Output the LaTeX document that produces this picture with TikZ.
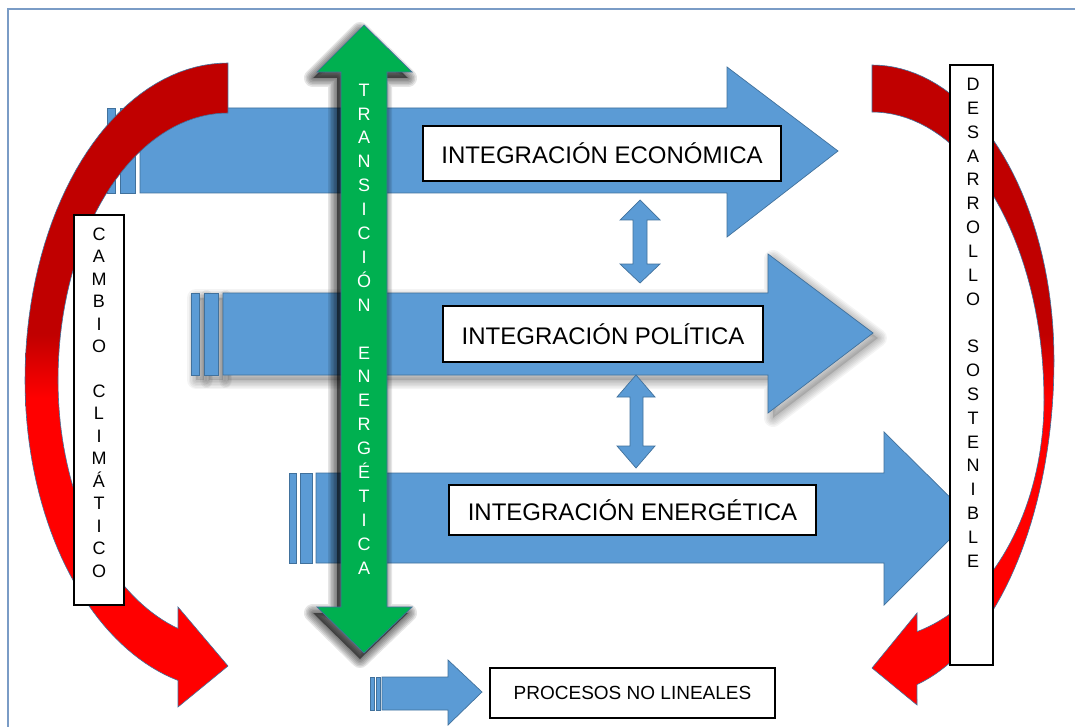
\documentclass[tikz,border=0pt]{standalone}
\usepackage{fontspec}
\setmainfont{Liberation Sans}
\definecolor{blueA}{HTML}{5B9BD5}
\definecolor{blueE}{HTML}{41719C}
\definecolor{greenA}{HTML}{00B050}
\definecolor{darkred}{HTML}{C00000}
\definecolor{brightred}{HTML}{FF0000}
\definecolor{framec}{HTML}{7A9CC6}
\pgfdeclareverticalshading{redarc}{100bp}{color(0bp)=(brightred); color(49bp)=(brightred); color(54bp)=(darkred); color(100bp)=(darkred)}
\newcommand{\softshadow}[5]{%
  \begin{scope}[shift={(#2,#3)}]
    \foreach \w in {18,15,12,9,6,3}{\path[draw=black, draw opacity=#5, line width=\w pt, line join=round] #1;}
    \path[fill=black, fill opacity=#4] #1;
  \end{scope}}
\def\midbody{(223,293)--(768,293)--(768,254)--(873,333)--(768,413)--(768,375)--(223,375)--cycle}
\def\midsa{(191,293) rectangle (199,375)}
\def\midsb{(204,293) rectangle (218,375)}
\def\greenarrow{(364,25)--(412,72)--(387,72)--(387,607)--(412,607)--(364,653)--(317,607)--(341,607)--(341,72)--(317,72)--cycle}
\begin{document}
\begin{tikzpicture}[x=1pt,y=-1pt,
  bluesh/.style={fill=blueA, draw=blueE, line width=0.7pt},
  greensh/.style={fill=greenA, draw=blueE, line width=0.7pt},
  redsh/.style={shading=redarc, draw=blueE, line width=0.6pt},
  tbox/.style={draw=black, fill=white, line width=1.1pt, inner sep=0pt, text=black},
  vtext/.style={inner sep=0pt, align=center},
  ]
\useasboundingbox (0,0) rectangle (1075,727);
\clip (0,0) rectangle (1075,727);
\fill[white] (0,0) rectangle (1075,727);
% frame
\draw[framec, line width=1.5pt] (8,740) -- (8,9) -- (1090,9);

% top arrow
\path[bluesh] (107,108) rectangle (115,193);
\path[bluesh] (120,108) rectangle (135,193);
\path[bluesh] (140,108)--(727,108)--(727,67)--(838,151)--(727,237)--(727,193)--(140,193)--cycle;

% middle arrow with shadow
\softshadow{\midbody}{5}{5}{0.12}{0.045}
\softshadow{\midsa}{5}{5}{0.12}{0.045}
\softshadow{\midsb}{5}{5}{0.12}{0.045}
\path[bluesh] \midsa;
\path[bluesh] \midsb;
\path[bluesh] \midbody;

% bottom arrow
\path[bluesh] (289,473) rectangle (296,563);
\path[bluesh] (300,473) rectangle (312,563);
\path[bluesh] (316,473)--(884,473)--(884,432)--(971,518)--(884,605)--(884,563)--(316,563)--cycle;

% small arrow to PROCESOS NO LINEALES
\path[bluesh] (370,677) rectangle (374,710);
\path[bluesh] (376,677) rectangle (380,710);
\path[bluesh] (382,677)--(448,677)--(448,660)--(482,692)--(448,725)--(448,710)--(382,710)--cycle;

% red curved arrows
\path[redsh]
  plot[domain=270:180,samples=40] ({228+203*cos(\x)},{380+317*sin(\x)})
  -- plot[domain=180:104.26,samples=40] ({228+203*cos(\x)},{380+310*sin(\x)})
  -- (178,707) -- (228,666) -- (178,607)
  -- plot[domain=107.1:180,samples=40] ({228+170*cos(\x)},{380+260*sin(\x)})
  -- plot[domain=180:270,samples=40] ({228+170*cos(\x)},{380+267*sin(\x)})
  -- cycle;
\path[redsh]
  plot[domain=-90:0,samples=40] ({872+182*cos(\x)},{360+295*sin(\x)})
  -- plot[domain=0:75.7,samples=40] ({872+182*cos(\x)},{360+335*sin(\x)})
  -- (917,705) -- (872,668) -- (917,613)
  -- plot[domain=74.8:0,samples=40] ({872+172*cos(\x)},{400+240*sin(\x)})
  -- plot[domain=0:-90,samples=40] ({872+172*cos(\x)},{400+288*sin(\x)})
  -- cycle;

% green double arrow
\softshadow{\greenarrow}{-4}{6}{0.5}{0.1}
\path[greensh] \greenarrow;
\node[vtext, text=white, font=\fontsize{18}{23.9}\selectfont] (transicion) at (364,329)
  {T\\R\\A\\N\\S\\I\\C\\I\\Ó\\N\\\strut\\E\\N\\E\\R\\G\\É\\T\\I\\C\\A};

% small vertical double arrows
\path[bluesh] (640,200)--(660,220)--(647,220)--(647,264)--(660,264)--(640,283)--(620,264)--(633,264)--(633,220)--(620,220)--cycle;
\path[bluesh] (636,375)--(655,397)--(643,397)--(643,446)--(655,446)--(636,468)--(617,446)--(630,446)--(630,397)--(617,397)--cycle;

% text boxes
\node[tbox, minimum width=358pt, minimum height=55pt, font=\fontsize{24}{28}\selectfont] (eco) at (602,153.5) {INTEGRACIÓN ECONÓMICA};
\node[tbox, minimum width=320pt, minimum height=56pt, font=\fontsize{24}{28}\selectfont] (pol) at (603,334) {INTEGRACIÓN POLÍTICA};
\node[tbox, minimum width=367pt, minimum height=50pt, font=\fontsize{24}{28}\selectfont] (ene) at (632.5,510) {INTEGRACIÓN ENERGÉTICA};
\node[tbox, minimum width=285pt, minimum height=50pt, font=\fontsize{19}{23}\selectfont] (proc) at (632.5,693) {PROCESOS NO LINEALES};

% vertical boxes
\node[tbox, minimum width=50pt, minimum height=390pt] (cambio) at (99,410) {};
\node[vtext, font=\fontsize{18}{22.47}\selectfont] (cambiotext) at (99,402.5)
  {C\\A\\M\\B\\I\\O\\\strut\\C\\L\\I\\M\\Á\\T\\I\\C\\O};
\node[tbox, minimum width=43pt, minimum height=600pt] (desarrollo) at (971.5,365) {};
\node[vtext, font=\fontsize{18}{23.83}\selectfont] (desarrollotext) at (973,322.75)
  {D\\E\\S\\A\\R\\R\\O\\L\\L\\O\\\strut\\S\\O\\S\\T\\E\\N\\I\\B\\L\\E};
\end{tikzpicture}
\end{document}
